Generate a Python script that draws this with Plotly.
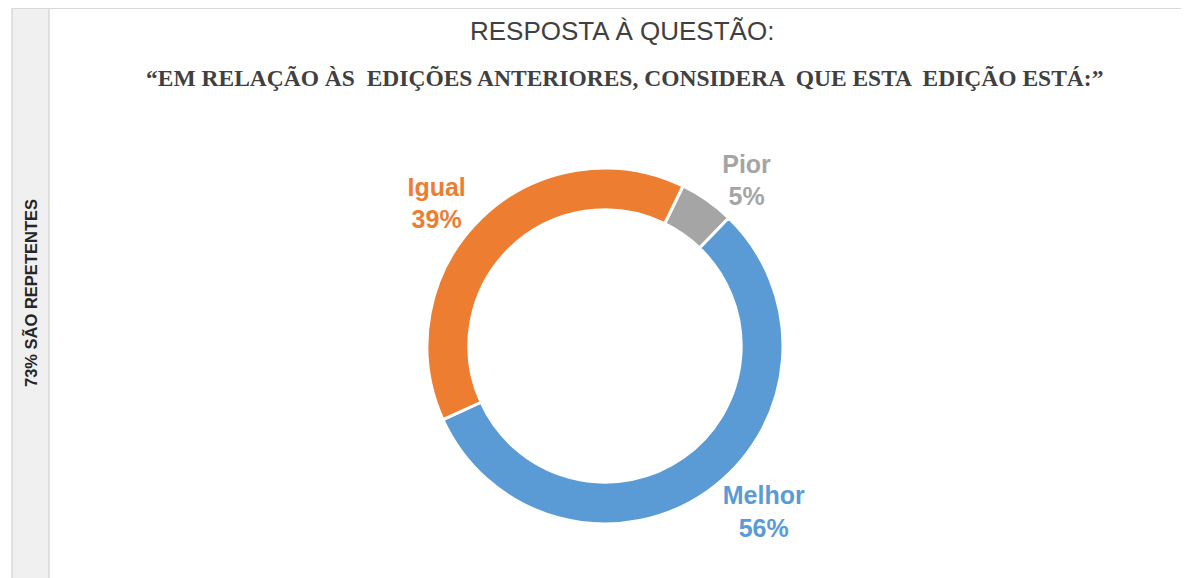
import plotly.graph_objects as go

categories = ["Pior", "Melhor", "Igual"]
values = [5, 56, 39]
colors = ["#A5A5A5", "#5B9BD5", "#ED7D31"]

title_line1 = "RESPOSTA À QUESTÃO:"
title_line2 = "“EM RELAÇÃO ÀS  EDIÇÕES ANTERIORES, CONSIDERA  QUE ESTA  EDIÇÃO ESTÁ:”"
side_label = "73% SÃO REPETENTES"

# The page body has an 8px default margin: the figure is drawn offset by it.
OFF = 8
W, H = 1189 - OFF, 578 - OFF


def px(x):
    return (x - OFF) / W


def py(y):
    return (H - (y - OFF)) / H


cx, cy, R = 605, 346, 178

fig = go.Figure(go.Pie(
    labels=categories,
    values=values,
    sort=False,
    direction="clockwise",
    rotation=26,
    hole=0.765,
    marker=dict(colors=colors, line=dict(color="white", width=3)),
    texttemplate="<b>%{label}</b><br><b>%{percent:.0%}</b>",
    textposition="outside",
    outsidetextfont=dict(family="Liberation Sans, Arial", size=25, color=colors),
    showlegend=False,
    domain=dict(x=[px(cx - R), px(cx + R)], y=[py(cy + R), py(cy - R)]),
    hoverinfo="label+percent",
))

shapes = [
    dict(type="rect", xref="paper", yref="paper", x0=px(12), x1=px(49), y0=-0.05, y1=py(8),
         fillcolor="#F0F0F0", line=dict(color="#C8C8C8", width=1), layer="below"),
    dict(type="line", xref="paper", yref="paper", x0=px(12), x1=1, y0=py(8), y1=py(8),
         line=dict(color="#D9D9D9", width=2)),
]

annotations = [
    dict(text=title_line1, x=px(622), y=py(31), xref="paper", yref="paper", showarrow=False,
         xanchor="center", yanchor="middle",
         font=dict(family="Liberation Sans, Arial", size=26, color="#404040")),
    dict(text="<b>" + title_line2 + "</b>", x=px(624), y=py(78), xref="paper", yref="paper", showarrow=False,
         xanchor="center", yanchor="middle",
         font=dict(family="Liberation Serif, Times New Roman, serif", size=23.5, color="#404040")),
    dict(text="<b>" + side_label + "</b>", x=px(30), y=py(293), xref="paper", yref="paper", showarrow=False,
         textangle=-90, xanchor="center", yanchor="middle",
         font=dict(family="Liberation Sans, Arial", size=16.5, color="#262626")),
]

fig.update_layout(
    width=W, height=H,
    margin=dict(l=0, r=0, t=0, b=0),
    paper_bgcolor="white",
    plot_bgcolor="white",
    shapes=shapes,
    annotations=annotations,
)

fig.write_html("out.html")
